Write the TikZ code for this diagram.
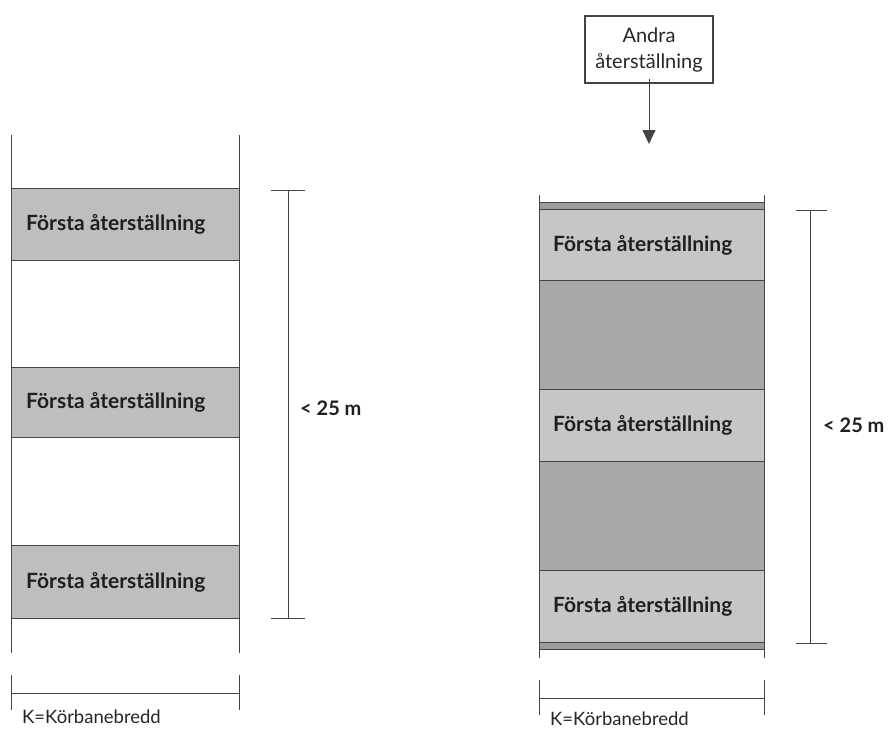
\documentclass[tikz,border=0pt]{standalone}
\usepackage{fontspec}
\setmainfont{Lato}
\usetikzlibrary{arrows.meta}
\definecolor{lg}{HTML}{BEBEBE}
\definecolor{rl}{HTML}{C6C6C6}
\definecolor{rd}{HTML}{A8A8A8}
\definecolor{strip}{HTML}{9C9C9C}
\definecolor{ln}{HTML}{444444}
\begin{document}
\begin{tikzpicture}[x=1pt,y=-1pt,
  edge/.style={draw=ln,line width=0.9pt},
  band/.style={draw=ln,line width=0.9pt,anchor=north west,inner sep=0pt,minimum width=#1},
  lbl/.style={font=\bfseries\fontsize{21}{24}\selectfont,anchor=west,text=black!88,inner sep=0pt},
  dimtxt/.style={font=\fontsize{18.5}{22}\selectfont,anchor=west,text=black!85,inner sep=0pt}]
\useasboundingbox (0,0) rectangle (889,731);
% ---------- left ----------
\draw[edge] (11,135) -- (11,653);
\draw[edge] (239,135) -- (239,653);
\node[band=228pt,fill=lg,minimum height=72pt] (L1) at (11,188) {};
\node[band=228pt,fill=lg,minimum height=70pt] (L2) at (11,367) {};
\node[band=228pt,fill=lg,minimum height=73pt] (L3) at (11,545) {};
\node[lbl] (L1t) at ([xshift=15pt]L1.west) {Första återställning};
\node[lbl] (L2t) at ([xshift=15pt]L2.west) {Första återställning};
\node[lbl] (L3t) at ([xshift=15pt]L3.west) {Första återställning};
% dimension
\coordinate (Ldt) at (288,190);
\coordinate (Ldb) at (288,618);
\draw[edge] (Ldt) -- (Ldb);
\draw[edge] (271,190) -- (305,190);
\draw[edge] (271,618) -- (305,618);
\node[lbl,font=\bfseries\fontsize{20}{24}\selectfont] (L25) at (300,408) {< 25 m};
\draw[edge] (11,675) -- (11,710);
\draw[edge] (239,675) -- (239,710);
\draw[edge] (11,693) -- (239,693);
\node[dimtxt] (LK) at (22,717) {K=Körbanebredd};
% ---------- right ----------
\draw[edge] (539,195) -- (539,658);
\draw[edge] (764,195) -- (764,658);
\node[band=225pt,fill=strip,minimum height=7pt] (Rs1) at (539,202) {};
\node[band=225pt,fill=rl,minimum height=71pt] (R1) at (539,209) {};
\node[band=225pt,fill=rd,minimum height=109pt] (R12) at (539,280) {};
\node[band=225pt,fill=rl,minimum height=72pt] (R2) at (539,389) {};
\node[band=225pt,fill=rd,minimum height=109pt] (R23) at (539,461) {};
\node[band=225pt,fill=rl,minimum height=72pt] (R3) at (539,570) {};
\node[band=225pt,fill=strip,minimum height=7pt] (Rs2) at (539,642) {};
\node[lbl] (R1t) at ([xshift=14pt]R1.west) {Första återställning};
\node[lbl] (R2t) at ([xshift=14pt]R2.west) {Första återställning};
\node[lbl] (R3t) at ([xshift=14pt]R3.west) {Första återställning};
\node[draw=ln,line width=1.2pt,minimum width=128pt,minimum height=67pt,inner sep=2pt,align=center,
      font=\fontsize{20}{26}\selectfont,text=black!85] (A) at (649,49.5) {Andra\\återställning};
\coordinate (Atip) at (649,144);
\draw[edge,-{Triangle[length=14pt,width=13pt]}] ([yshift=5pt]A.south) -- (Atip);
\draw[edge] (810,210) -- (810,643);
\draw[edge] (796,210) -- (827,210);
\draw[edge] (796,643) -- (827,643);
\node[lbl,font=\bfseries\fontsize{20}{24}\selectfont] (R25) at (823,425) {< 25 m};
\draw[edge] (539,680) -- (539,715);
\draw[edge] (764,680) -- (764,715);
\draw[edge] (539,698) -- (764,698);
\node[dimtxt] (RK) at (550,719) {K=Körbanebredd};
\end{tikzpicture}
\end{document}
